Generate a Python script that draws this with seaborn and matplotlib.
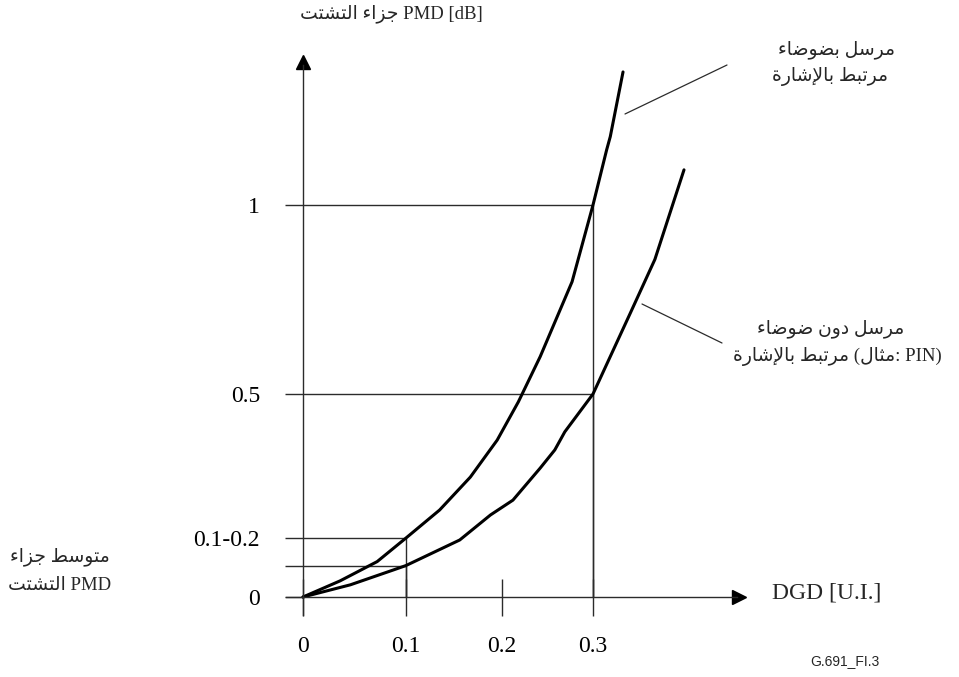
import numpy as np
import pandas as pd
import matplotlib
matplotlib.use("Agg")
import matplotlib.pyplot as plt
import seaborn as sns

# PMD penalty [dB] against DGD [U.I.] for the two transmitter types
dgd_noise = [0, 0.036, 0.072, 0.1, 0.135, 0.167, 0.195, 0.218, 0.242, 0.277, 0.3, 0.315, 0.319, 0.333]
penalty_noise = [0, 0.041, 0.09, 0.15, 0.218, 0.298, 0.388, 0.481, 0.599, 0.797, 1.0, 1.146, 1.181, 1.352]
dgd_pin = [0, 0.046, 0.088, 0.1, 0.156, 0.188, 0.212, 0.242, 0.258, 0.269, 0.3, 0.341, 0.368, 0.4]
penalty_pin = [0, 0.031, 0.069, 0.08, 0.145, 0.206, 0.242, 0.32, 0.364, 0.408, 0.5, 0.714, 0.856, 1.093]

x_ticks = [0, 0.1, 0.2, 0.3]
x_tick_labels = ["0", "0.1", "0.2", "0.3"]
y_ticks = [0, 0.08, 0.15, 0.5, 1.0]
y_tick_labels = ["0", "", "0.1-0.2", "0.5", "1"]

# reference levels: (DGD, penalty) corners of the construction lines
guide_points = [(0.3, 1.0), (0.3, 0.5), (0.1, 0.15), (0.1, 0.08)]

# ---------------------------------------------------------------------------
# Arabic text: matplotlib does no shaping, so pick presentation forms here
# and lay the letters out in visual (right-to-left) order.
FORMS = {  # isolated, final, initial, medial
    "\u0621": (0xFE80, None, None, None),
    "\u0625": (0xFE87, 0xFE88, None, None),
    "\u0627": (0xFE8D, 0xFE8E, None, None),
    "\u0628": (0xFE8F, 0xFE90, 0xFE91, 0xFE92),
    "\u0629": (0xFE93, 0xFE94, None, None),
    "\u062A": (0xFE95, 0xFE96, 0xFE97, 0xFE98),
    "\u062B": (0xFE99, 0xFE9A, 0xFE9B, 0xFE9C),
    "\u062C": (0xFE9D, 0xFE9E, 0xFE9F, 0xFEA0),
    "\u062F": (0xFEA9, 0xFEAA, None, None),
    "\u0631": (0xFEAD, 0xFEAE, None, None),
    "\u0632": (0xFEAF, 0xFEB0, None, None),
    "\u0633": (0xFEB1, 0xFEB2, 0xFEB3, 0xFEB4),
    "\u0634": (0xFEB5, 0xFEB6, 0xFEB7, 0xFEB8),
    "\u0636": (0xFEBD, 0xFEBE, 0xFEBF, 0xFEC0),
    "\u0637": (0xFEC1, 0xFEC2, 0xFEC3, 0xFEC4),
    "\u0644": (0xFEDD, 0xFEDE, 0xFEDF, 0xFEE0),
    "\u0645": (0xFEE1, 0xFEE2, 0xFEE3, 0xFEE4),
    "\u0646": (0xFEE5, 0xFEE6, 0xFEE7, 0xFEE8),
    "\u0648": (0xFEED, 0xFEEE, None, None),
}
LAM_ALEF = {"\u0627": (0xFEFB, 0xFEFC, None, None),
            "\u0625": (0xFEF9, 0xFEFA, None, None)}


def shape(text):
    units, i = [], 0
    while i < len(text):
        c = text[i]
        if c == "\u0644" and i + 1 < len(text) and text[i + 1] in LAM_ALEF:
            units.append(LAM_ALEF[text[i + 1]])
            i += 2
        else:
            units.append(FORMS.get(c, c))
            i += 1
    out = []
    for k, u in enumerate(units):
        if isinstance(u, str):
            out.append(u)
            continue
        prev = units[k - 1] if k > 0 else None
        nxt = units[k + 1] if k + 1 < len(units) else None
        j_prev = (prev is not None and not isinstance(prev, str)
                  and prev[2] is not None and u[1] is not None)
        j_next = (nxt is not None and not isinstance(nxt, str)
                  and nxt[1] is not None and u[2] is not None)
        if j_prev and j_next:
            cp = u[3]
        elif j_prev:
            cp = u[1]
        elif j_next:
            cp = u[2]
        else:
            cp = u[0]
        out.append(chr(cp))
    return out


def rtl(text):
    return "".join(reversed(shape(text)))


# ---------------------------------------------------------------------------
df = pd.concat([
    pd.DataFrame({"DGD": dgd_noise, "penalty": penalty_noise, "tx": "noise"}),
    pd.DataFrame({"DGD": dgd_pin, "penalty": penalty_pin, "tx": "pin"}),
])

sns.set_theme(style="white")
plt.rcParams["font.family"] = ["Liberation Serif", "DejaVu Sans"]

W, H = 959, 677
fig = plt.figure(figsize=(W / 100, H / 100), dpi=100)
ax = fig.add_axes([0, 0, 1, 1])
ax.set_facecolor("white")

# uneven spacing of the schematic axes (screen offset of each value from the origin)
x_stops = ([-1.0, 0, 0.1, 0.2, 0.3, 1.5], [-1030, 0, 103, 199, 290, 1382])
y_stops = ([-1.0, 0, 0.15, 0.5, 1.0, 3.0], [-406, 0, 59, 203, 392, 1148])


def fx(v):
    return np.interp(v, x_stops[0], x_stops[1])


def fx_inv(p):
    return np.interp(p, x_stops[1], x_stops[0])


def fy(v):
    return np.interp(v, y_stops[0], y_stops[1])


def fy_inv(p):
    return np.interp(p, y_stops[1], y_stops[0])


ax.set_xscale("function", functions=(fx, fx_inv))
ax.set_yscale("function", functions=(fy, fy_inv))
ORIGIN_X, ORIGIN_Y = 303, 597
ax.set_xlim(fx_inv(-ORIGIN_X), fx_inv(W - ORIGIN_X))
ax.set_ylim(fy_inv(ORIGIN_Y - H), fy_inv(ORIGIN_Y))

INK = "#2b2b2b"
THIN = 1.0

# construction lines
for gx, gy in guide_points:
    ax.plot([0, gx], [gy, gy], color=INK, lw=THIN, solid_capstyle="butt")
    ax.plot([gx, gx], [0, gy], color=INK, lw=THIN, solid_capstyle="butt")

sns.lineplot(data=df, x="DGD", y="penalty", hue="tx", palette=["black", "black"],
             estimator=None, sort=False, legend=False, lw=2.2, ax=ax)
ax.set_xlabel("")
ax.set_ylabel("")

# axes drawn through the origin with arrow heads
for side in ("top", "right"):
    ax.spines[side].set_visible(False)
for side in ("left", "bottom"):
    ax.spines[side].set_position(("data", 0))
    ax.spines[side].set_color(INK)
    ax.spines[side].set_linewidth(THIN)
ax.spines["left"].set_bounds(fy_inv(-18), fy_inv(532))
ax.spines["bottom"].set_bounds(fx_inv(-17), fx_inv(434))
ax.plot([0], [fy_inv(535.5)], marker="^", ms=9.5, color="black", clip_on=False)
ax.plot([fx_inv(435.5)], [0], marker=">", ms=9.5, color="black", clip_on=False)

ax.set_xticks(x_ticks, x_tick_labels)
ax.set_yticks(y_ticks, y_tick_labels)
ax.minorticks_off()
ax.tick_params(axis="x", bottom=True, top=False, direction="inout",
               length=37 * 0.72, width=THIN, color=INK, labelcolor="black",
               labelsize=17, pad=15)
ax.tick_params(axis="y", left=True, right=False, direction="out",
               length=18 * 0.72, width=THIN, color=INK, labelcolor="black",
               labelsize=17, pad=18)
ax.grid(False)


def put(x, y, s, size=14, ha="center", family=None, **kw):
    fig.text(x / W, 1 - y / H, s, ha=ha, va="center", fontsize=size,
             family=family or ["Liberation Serif", "DejaVu Sans"], **kw)


def leader(x0, y0, x1, y1):
    ax.annotate("", xy=(x0, H - y0), xycoords="figure pixels",
                xytext=(x1, H - y1), textcoords="figure pixels",
                arrowprops=dict(arrowstyle="-", lw=0.9, color=INK,
                                shrinkA=0, shrinkB=0))


AR = 13.5
put(300, 14, rtl("جزاء التشتت") + " PMD [dB]", size=AR, ha="left")

put(837, 50, rtl("مرسل بضوضاء"), size=AR)
put(830, 77, rtl("مرتبط بالإشارة"), size=AR)
leader(625, 114, 727, 65)

put(831, 329, rtl("مرسل دون ضوضاء"), size=AR)
put(837, 356, rtl("مرتبط بالإشارة") + " (" + rtl("مثال") + ": PIN)", size=AR)
leader(642, 304, 722, 343)

put(60, 557, rtl("متوسط جزاء"), size=AR)
put(60, 585, rtl("التشتت") + " PMD", size=AR)

put(772, 593, "DGD [U.I.]", size=17, ha="left")
put(810, 661, "G.691_FI.3", size=10, ha="left", family="Liberation Sans")

fig.savefig("out.png", dpi=100, facecolor="white")
